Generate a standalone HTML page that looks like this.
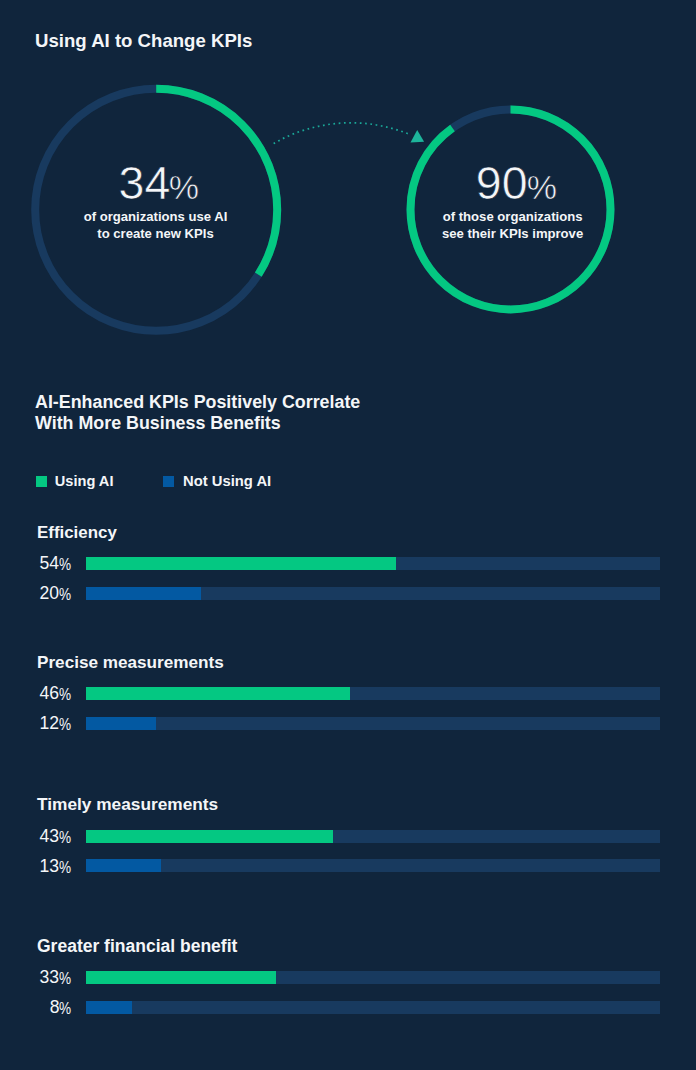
<!DOCTYPE html>
<html><head><meta charset="utf-8">
<style>
html,body{margin:0;padding:0;}
body{width:696px;height:1070px;background:#10253c;position:relative;overflow:hidden;font-family:"Liberation Sans",sans-serif;color:#f4f6f8;}
.a{position:absolute;white-space:nowrap;line-height:1;}
.h{font-weight:bold;}
.big{-webkit-text-stroke:0.6px #10253c;}
.thin{-webkit-text-stroke:0.25px #10253c;}
svg{position:absolute;left:0;top:0;}
.bar{position:absolute;left:86.3px;width:573.7px;height:13px;background:#183a5f;}
.bar i{position:absolute;left:0;top:0;height:13px;display:block;}
.g{background:#04c882;}
.b{background:#0359a2;}
.dg{position:absolute;right:636.9px;font-size:18.9px;white-space:nowrap;line-height:1;transform:scaleX(0.93);transform-origin:100% 0;}
.pc{position:absolute;left:59px;font-size:16px;white-space:nowrap;line-height:1;transform:scaleX(0.85);transform-origin:0 0;}
.st{font-weight:bold;position:absolute;left:37px;white-space:nowrap;line-height:1;}
</style></head><body>
<div class="a h" style="left:35px;top:32px;font-size:18.6px;">Using AI to Change KPIs</div>

<svg width="696" height="360" viewBox="0 0 696 360">
  <circle cx="156.2" cy="209.8" r="121" fill="none" stroke="#183a5f" stroke-width="8"/>
  <circle cx="156.2" cy="209.8" r="121" fill="none" stroke="#04c882" stroke-width="8" stroke-dasharray="258.5 1000" transform="rotate(-90 156.2 209.8)"/>
  <circle cx="510.5" cy="209.4" r="100" fill="none" stroke="#183a5f" stroke-width="8"/>
  <circle cx="510.5" cy="209.4" r="100" fill="none" stroke="#04c882" stroke-width="8" stroke-dasharray="565.5 1000" transform="rotate(-90 510.5 209.4)"/>
  <path d="M273.6 143.6 A154 154 0 0 1 411 135" fill="none" stroke="#1aa898" stroke-width="1.7" stroke-dasharray="1.7 3.585"/>
  <path d="M417.2 130 L410.5 142.6 L424.1 141.7 Z" fill="#1db59b"/>
</svg>

<div class="a big" style="left:118.6px;top:160px;font-size:46.5px;">34</div>
<div class="a big" style="left:168.8px;top:170px;font-size:34px;">%</div>
<div class="a h" style="left:0;width:311px;text-align:center;top:207.5px;font-size:13.1px;line-height:17px;">of organizations use AI<br>to create new KPIs</div>

<div class="a big" style="left:475.8px;top:160px;font-size:46.5px;">90</div>
<div class="a big" style="left:526.8px;top:170px;font-size:34px;">%</div>
<div class="a h" style="left:400px;width:225.2px;text-align:center;top:207.5px;font-size:13.1px;line-height:17px;">of those organizations<br>see their KPIs improve</div>

<div class="a h" style="left:35px;top:392px;font-size:17.85px;line-height:21px;">AI-Enhanced KPIs Positively Correlate<br>With More Business Benefits</div>

<div class="a" style="left:36px;top:476px;width:11px;height:11px;background:#04c882;"></div>
<div class="a h" style="left:54.8px;top:474px;font-size:14.6px;">Using AI</div>
<div class="a" style="left:163px;top:476px;width:11px;height:11px;background:#0359a2;"></div>
<div class="a h" style="left:183px;top:474px;font-size:14.8px;">Not Using AI</div>

<div class="st" style="top:524.6px;font-size:16.9px;">Efficiency</div>
<div class="dg" style="top:553.75px;">54</div><div class="pc" style="top:556.70px;">%</div>
<div class="bar" style="top:557px;"><i class="g" style="width:310px"></i></div>
<div class="dg" style="top:583.75px;">20</div><div class="pc" style="top:586.70px;">%</div>
<div class="bar" style="top:587px;"><i class="b" style="width:115px"></i></div>

<div class="st" style="top:654px;font-size:17.15px;">Precise measurements</div>
<div class="dg" style="top:683.75px;">46</div><div class="pc" style="top:686.70px;">%</div>
<div class="bar" style="top:687px;"><i class="g" style="width:264px"></i></div>
<div class="dg" style="top:713.75px;">12</div><div class="pc" style="top:716.70px;">%</div>
<div class="bar" style="top:717px;"><i class="b" style="width:70px"></i></div>

<div class="st" style="top:795.5px;font-size:17.3px;">Timely measurements</div>
<div class="dg" style="top:826.75px;">43</div><div class="pc" style="top:829.70px;">%</div>
<div class="bar" style="top:830px;"><i class="g" style="width:247px"></i></div>
<div class="dg" style="top:856.75px;">13</div><div class="pc" style="top:859.70px;">%</div>
<div class="bar" style="top:859.4px;"><i class="b" style="width:75px"></i></div>

<div class="st" style="top:937.8px;font-size:17.5px;">Greater financial benefit</div>
<div class="dg" style="top:967.75px;">33</div><div class="pc" style="top:970.70px;">%</div>
<div class="bar" style="top:971px;"><i class="g" style="width:189.8px"></i></div>
<div class="dg" style="top:997.75px;">8</div><div class="pc" style="top:1000.70px;">%</div>
<div class="bar" style="top:1001px;"><i class="b" style="width:46px"></i></div>
</body></html>
